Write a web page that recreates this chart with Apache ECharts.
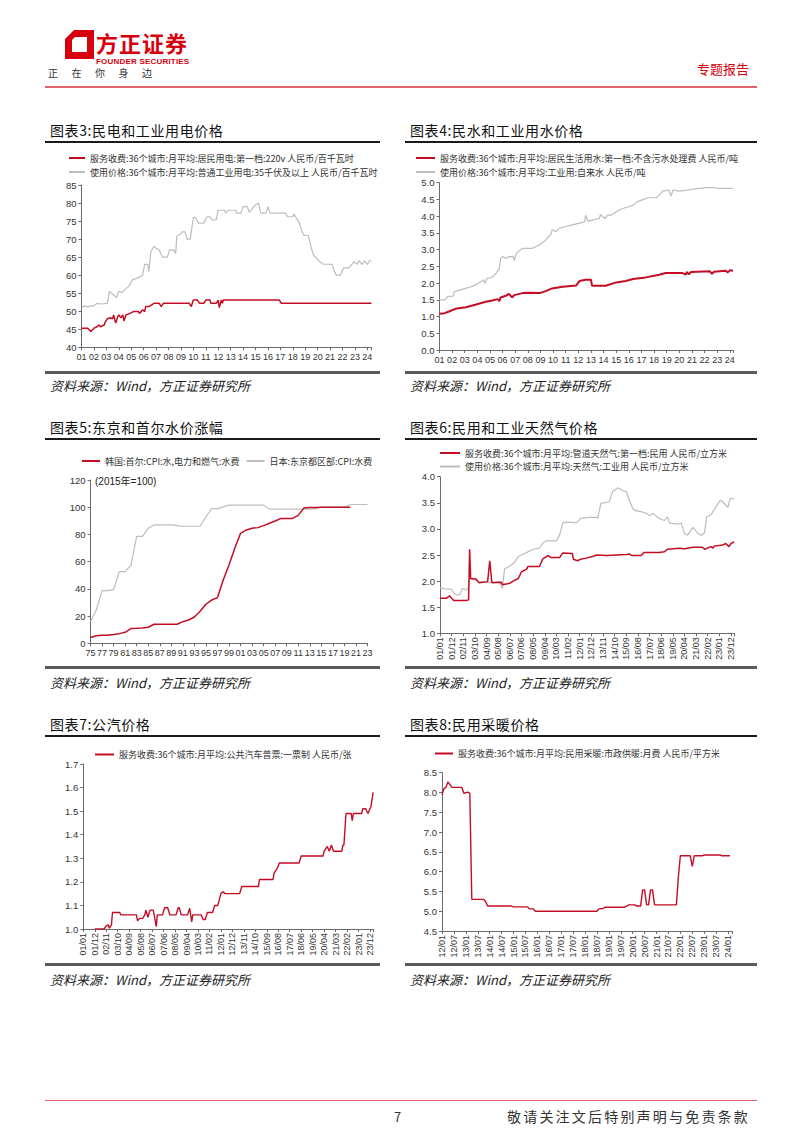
<!DOCTYPE html>
<html><head><meta charset="utf-8">
<script src="https://cdn.jsdelivr.net/npm/echarts@6/dist/echarts.min.js"></script>
<style>
html,body{margin:0;padding:0;background:#fff;}
#page{position:relative;width:802px;height:1133px;overflow:hidden;font-family:"Noto Sans CJK SC","Noto Sans",sans-serif;}
#chart{position:absolute;left:0;top:0;width:802px;height:1133px;z-index:1;}
.t{position:absolute;white-space:nowrap;line-height:1;z-index:2;}
.ln{position:absolute;z-index:2;}
.ttl{font-size:14px;color:#111;letter-spacing:0.6px;}
.src{font-size:13px;color:#222;font-style:italic;}
</style></head>
<body><div id="page">
<div id="chart"></div>
<svg class="ln" style="left:65px;top:30px" width="29" height="29" viewBox="0 0 29 29">
<path fill="#D7000F" fill-rule="evenodd" d="M9 0 H29 V29 H0 V9 Z M10 7 H22 V22 H7 V10 Z"/>
</svg>
<div class="t" style="left:96px;top:31px;font-size:22px;font-weight:bold;color:#D7000F;letter-spacing:1px">方正证券</div>
<div class="t" style="left:96px;top:58px;font-size:8px;font-weight:bold;color:#D7000F;font-family:'Liberation Sans',Arial,sans-serif;letter-spacing:0.2px">FOUNDER SECURITIES</div>
<div class="t" style="left:48px;top:68px;font-size:10px;color:#333;letter-spacing:13.5px">正在你身边</div>
<div class="t" style="left:697px;top:62px;font-size:13px;color:#D7000F">专题报告</div>
<div class="ln" style="left:45px;top:86px;width:712px;height:1.5px;background:#E3606C"></div>

<div class="t ttl" style="left:50px;top:123px">图表3:民电和工业用电价格</div>
<div class="ln" style="left:45px;top:141px;width:335px;height:2px;background:#1a1a1a"></div>
<div class="t ttl" style="left:410px;top:123px">图表4:民水和工业用水价格</div>
<div class="ln" style="left:405px;top:141px;width:352px;height:2px;background:#1a1a1a"></div>
<div class="ln" style="left:45px;top:371px;width:335px;height:3px;background:#5a5a5a"></div>
<div class="ln" style="left:405px;top:371px;width:352px;height:3px;background:#5a5a5a"></div>
<div class="t src" style="left:50px;top:379px">资料来源：Wind，方正证券研究所</div>
<div class="t src" style="left:410px;top:379px">资料来源：Wind，方正证券研究所</div>

<div class="t ttl" style="left:50px;top:420px">图表5:东京和首尔水价涨幅</div>
<div class="ln" style="left:45px;top:438px;width:335px;height:2px;background:#1a1a1a"></div>
<div class="t ttl" style="left:410px;top:420px">图表6:民用和工业天然气价格</div>
<div class="ln" style="left:405px;top:438px;width:352px;height:2px;background:#1a1a1a"></div>
<div class="t" style="left:95px;top:477px;font-size:10px;color:#222;font-family:'Liberation Sans','Noto Sans CJK SC',sans-serif">(2015年=100)</div>
<div class="ln" style="left:45px;top:666px;width:335px;height:3px;background:#5a5a5a"></div>
<div class="ln" style="left:405px;top:666px;width:352px;height:3px;background:#5a5a5a"></div>
<div class="t src" style="left:50px;top:676px">资料来源：Wind，方正证券研究所</div>
<div class="t src" style="left:410px;top:676px">资料来源：Wind，方正证券研究所</div>

<div class="t ttl" style="left:50px;top:717px">图表7:公汽价格</div>
<div class="ln" style="left:45px;top:735px;width:335px;height:2px;background:#1a1a1a"></div>
<div class="t ttl" style="left:410px;top:717px">图表8:民用采暖价格</div>
<div class="ln" style="left:405px;top:735px;width:352px;height:2px;background:#1a1a1a"></div>
<div class="ln" style="left:45px;top:963px;width:335px;height:3px;background:#5a5a5a"></div>
<div class="ln" style="left:405px;top:963px;width:352px;height:3px;background:#5a5a5a"></div>
<div class="t src" style="left:50px;top:973px">资料来源：Wind，方正证券研究所</div>
<div class="t src" style="left:410px;top:973px">资料来源：Wind，方正证券研究所</div>

<div class="ln" style="left:45px;top:1100px;width:712px;height:1px;background:#E3606C"></div>
<div class="t" style="left:394px;top:1110px;font-size:13px;color:#333">7</div>
<div class="t" style="left:507px;top:1109px;font-size:14px;color:#333;letter-spacing:2.2px">敬请关注文后特别声明与免责条款</div>
</div>
<script>
// ---------- data ----------
// Chart 3: electricity (RMB per 100 kWh), monthly, x = YYYY-MM
const elecResidential = [["2001-01",45.3],["2001-07",45.3],["2001-10",44.4],["2002-01",45.3],["2002-04",45.7],["2002-06",46.2],["2002-07",45.7],["2002-11",46.2],["2002-12",47.1],["2003-02",47.9],["2003-05",48.2],["2003-07",47.9],["2003-08",49],["2003-10",46.7],["2003-12",48.5],["2004-01",49],["2004-03",48.2],["2004-05",49],["2004-06",47.3],["2004-08",49],["2004-12",49.4],["2005-03",49.9],["2005-08",49.9],["2005-09",49.4],["2005-12",50.4],["2006-02",49.9],["2006-03",51.3],["2006-06",51.3],["2006-11",52.2],["2007-04",52.2],["2007-06",51.3],["2007-08",52.2],["2009-09",52.2],["2009-11",51.3],["2010-01",53.1],["2010-05",53.1],["2010-07",52.2],["2010-11",52.2],["2011-01",53.1],["2011-05",53.1],["2011-06",52.2],["2011-11",52.2],["2012-01",53.1],["2012-02",51],["2012-04",53.1],["2012-05",52.2],["2012-06",53.1],["2016-12",53.1],["2017-02",52.2],["2024-05",52.2]];
const elecIndustrial = [["2001-01",51],["2001-04",51.5],["2001-07",51.2],["2001-10",51.5],["2002-01",51.5],["2002-04",52.2],["2002-08",52],["2003-02",52.2],["2003-04",55.5],["2003-08",54.5],["2003-11",53.8],["2004-01",55.5],["2004-04",55.2],["2004-07",56],["2004-11",57],["2005-02",58.7],["2005-08",59.3],["2005-12",60],["2006-02",63],["2006-05",63],["2006-06",61],["2006-08",66.5],["2006-11",68],["2007-01",67.5],["2007-04",67],["2007-07",65],["2007-12",65],["2008-02",67],["2008-06",67],["2008-08",66],["2008-09",70.8],["2009-01",71.5],["2009-02",72],["2009-05",72],["2009-07",70],["2009-10",70],["2010-01",76],["2010-03",76],["2010-06",74.4],["2010-11",74.4],["2011-02",76.2],["2011-05",76.2],["2011-07",75.3],["2011-11",75.3],["2012-01",78],["2012-07",78],["2012-08",77.2],["2012-11",78],["2013-06",78],["2013-07",77.2],["2013-11",77.2],["2014-01",79],["2014-05",79],["2014-07",77.5],["2014-10",78.5],["2015-01",79.5],["2015-04",80],["2015-06",77.2],["2015-11",77.2],["2016-01",79],["2016-03",77.2],["2017-06",77.2],["2017-08",76.2],["2018-01",76.2],["2018-02",77],["2018-04",76],["2018-07",74.8],["2018-10",72],["2018-12",71],["2019-04",71],["2019-07",67.4],["2019-09",65.6],["2019-12",64.7],["2020-03",63.7],["2020-06",63.1],["2021-03",63],["2021-04",62],["2021-07",60],["2021-11",60],["2022-02",62],["2022-07",62],["2022-10",63],["2022-12",63.7],["2023-03",63],["2023-05",64],["2023-08",63],["2023-10",64],["2024-01",63],["2024-03",64],["2024-05",64]];

// Chart 4: water (RMB per ton)
const waterResidential = [["2001-01",1.08],["2001-06",1.1],["2001-10",1.15],["2002-04",1.23],["2003-02",1.28],["2003-11",1.35],["2004-09",1.44],["2005-03",1.48],["2005-08",1.52],["2005-10",1.46],["2005-11",1.57],["2006-04",1.62],["2006-07",1.68],["2006-10",1.57],["2006-12",1.64],["2007-08",1.7],["2008-02",1.71],["2008-12",1.7],["2009-06",1.76],["2009-12",1.84],["2010-10",1.89],["2011-11",1.93],["2012-02",2.06],["2012-08",2.1],["2013-01",2.1],["2013-02",1.92],["2014-03",1.92],["2015-01",2.02],["2015-10",2.06],["2016-05",2.12],["2017-05",2.17],["2018-06",2.25],["2018-12",2.3],["2020-04",2.3],["2020-07",2.25],["2020-08",2.33],["2020-10",2.26],["2020-12",2.33],["2022-06",2.35],["2022-08",2.28],["2022-10",2.34],["2023-09",2.37],["2023-11",2.32],["2024-01",2.38],["2024-04",2.37]];
const waterIndustrial = [["2001-01",1.5],["2001-06",1.5],["2001-09",1.6],["2002-02",1.61],["2002-03",1.74],["2002-08",1.79],["2003-02",1.84],["2003-07",1.89],["2003-11",1.94],["2004-04",2.04],["2004-07",2.09],["2004-08",1.99],["2004-10",2.14],["2005-02",2.16],["2005-06",2.26],["2005-10",2.44],["2005-11",2.74],["2006-01",2.79],["2006-04",2.74],["2006-07",2.79],["2006-11",2.8],["2006-12",2.67],["2007-02",2.89],["2007-08",3.04],["2008-05",3.04],["2008-12",3.14],["2009-06",3.29],["2009-11",3.46],["2009-12",3.59],["2010-04",3.54],["2010-07",3.64],["2011-01",3.69],["2011-07",3.74],["2012-02",3.79],["2012-07",3.83],["2012-08",4.03],["2012-10",3.85],["2013-02",3.88],["2013-09",3.93],["2013-10",4.05],["2014-02",3.93],["2014-05",4.03],["2014-08",4.03],["2015-01",4.13],["2015-07",4.23],["2016-01",4.28],["2016-05",4.33],["2016-09",4.43],["2017-01",4.48],["2017-07",4.55],["2018-03",4.55],["2018-06",4.63],["2018-09",4.75],["2019-03",4.78],["2019-05",4.6],["2019-07",4.78],["2020-01",4.75],["2020-08",4.78],["2021-02",4.81],["2022-02",4.85],["2022-09",4.85],["2023-03",4.83],["2024-04",4.83]];

// Chart 5: Tokyo / Seoul water CPI (2015=100), annual
const years5 = [1975,1976,1977,1978,1979,1980,1981,1982,1983,1984,1985,1986,1987,1988,1989,1990,1991,1992,1993,1994,1995,1996,1997,1998,1999,2000,2001,2002,2003,2004,2005,2006,2007,2008,2009,2010,2011,2012,2013,2014,2015,2016,2017,2018,2019,2020,2021,2022,2023];
const seoulWater = [4.2,5.6,5.9,5.9,6.4,7.1,8.1,10.8,11,11.3,11.8,14,14,14,14,14,15.9,17.1,19.3,23.5,28.7,31.8,33.6,46.5,57.6,69.8,80.8,83.3,84.5,85,86.5,88.2,89.9,91.8,91.8,91.8,94,99.5,99.8,99.8,100,100,100,100,100,100];
const tokyoWater = [16,24.5,38.7,38.7,39.5,52.7,52.7,57.3,78.5,78.5,84.5,87,87,87,87,86.5,86,86,86,86,93,99,99,100.2,101.5,101.5,101.5,101.5,101.5,101.5,101.5,98.6,98.6,98.6,98.6,98.6,98.6,98.6,98.6,99,100,100,100,100,100,102,102,102,102];

// Chart 6: natural gas (RMB per m3)
const gasResidential = [["2001-01",1.67],["2001-07",1.67],["2001-10",1.72],["2001-12",1.67],["2002-02",1.63],["2003-02",1.63],["2003-04",1.64],["2003-05",2.61],["2003-06",2.05],["2003-11",2.04],["2004-02",1.97],["2004-10",1.99],["2004-12",2.39],["2005-02",1.97],["2005-11",1.98],["2005-12",1.93],["2006-07",1.96],["2006-11",2.01],["2007-03",2.05],["2007-06",2.18],["2007-11",2.23],["2007-12",2.28],["2008-11",2.28],["2009-02",2.42],["2009-07",2.49],["2009-10",2.45],["2010-06",2.45],["2010-09",2.54],["2011-06",2.53],["2011-07",2.42],["2011-11",2.39],["2012-02",2.42],["2012-07",2.44],["2013-01",2.47],["2013-05",2.5],["2014-02",2.49],["2015-09",2.51],["2015-12",2.52],["2016-02",2.49],["2016-11",2.49],["2017-02",2.55],["2018-04",2.55],["2018-09",2.56],["2018-12",2.61],["2019-11",2.63],["2020-04",2.62],["2020-12",2.65],["2021-09",2.65],["2021-11",2.61],["2022-05",2.66],["2022-07",2.63],["2022-08",2.67],["2023-04",2.69],["2023-07",2.72],["2023-10",2.66],["2023-12",2.72],["2024-03",2.75]];
const gasIndustrial = [["2001-01",1.87],["2001-06",1.85],["2001-12",1.84],["2002-02",1.77],["2002-05",1.73],["2002-08",1.75],["2002-10",1.86],["2003-02",1.83],["2003-04",1.89],["2003-05",2.05],["2003-10",2.02],["2004-01",1.99],["2004-12",1.97],["2005-09",1.99],["2005-12",1.86],["2006-02",2.23],["2006-07",2.29],["2006-11",2.35],["2007-03",2.47],["2007-08",2.52],["2007-12",2.56],["2008-05",2.61],["2008-11",2.63],["2009-02",2.72],["2009-05",2.77],["2010-03",2.77],["2010-06",2.88],["2010-09",3.11],["2010-12",3.13],["2011-10",3.12],["2012-02",3.2],["2012-10",3.22],["2013-05",3.22],["2013-06",3.2],["2013-09",3.49],["2014-05",3.52],["2014-08",3.71],["2015-01",3.79],["2015-05",3.74],["2015-09",3.71],["2015-12",3.55],["2016-03",3.39],["2016-06",3.35],["2016-11",3.33],["2017-04",3.3],["2017-07",3.25],["2017-10",3.3],["2018-01",3.25],["2018-04",3.2],["2018-09",3.16],["2018-12",3.23],["2019-02",3.11],["2019-10",3.09],["2020-01",3.11],["2020-04",2.91],["2020-07",2.88],["2020-12",3.03],["2021-05",2.91],["2021-08",2.88],["2021-11",2.93],["2022-01",3.23],["2022-05",3.27],["2022-10",3.43],["2023-02",3.55],["2023-04",3.52],["2023-09",3.41],["2023-11",3.58],["2024-03",3.58]];

// Chart 7: bus fare (RMB per ticket)
const busFare = [["2001-12",1.0],["2002-09",1.0],["2002-11",1.013],["2003-01",1.017],["2003-02",1.003],["2003-04",1.017],["2003-05",1.07],["2003-12",1.07],["2004-01",1.06],["2005-04",1.06],["2005-05",1.035],["2005-07",1.045],["2005-10",1.045],["2005-12",1.06],["2006-01",1.08],["2006-03",1.05],["2006-05",1.08],["2006-08",1.08],["2006-09",1.06],["2006-11",1.01],["2006-12",1.06],["2007-05",1.06],["2007-07",1.09],["2007-10",1.09],["2007-12",1.06],["2008-06",1.06],["2008-08",1.09],["2008-09",1.09],["2008-11",1.06],["2009-05",1.06],["2009-07",1.088],["2009-09",1.03],["2009-10",1.06],["2010-06",1.06],["2010-08",1.04],["2010-10",1.04],["2010-12",1.07],["2011-05",1.07],["2011-07",1.1],["2011-10",1.1],["2012-01",1.15],["2012-03",1.158],["2012-05",1.15],["2013-07",1.15],["2013-09",1.18],["2015-01",1.18],["2015-02",1.21],["2016-03",1.21],["2016-04",1.236],["2016-07",1.257],["2016-09",1.28],["2018-04",1.28],["2018-06",1.31],["2020-03",1.31],["2020-04",1.33],["2020-07",1.35],["2020-09",1.33],["2020-11",1.356],["2021-01",1.33],["2021-09",1.33],["2021-10",1.356],["2021-11",1.356],["2022-01",1.49],["2022-06",1.49],["2022-07",1.46],["2022-08",1.49],["2023-04",1.49],["2023-05",1.51],["2023-08",1.51],["2023-10",1.49],["2023-12",1.51],["2024-01",1.52],["2024-03",1.58]];

// Chart 8: heating (RMB per m2 per month)
const heatingFee = [["2012-01",7.94],["2012-02",8.1],["2012-03",8.13],["2012-04",8.27],["2012-06",8.13],["2012-11",8.13],["2012-12",7.98],["2013-02",8.01],["2013-03",7.98],["2013-04",5.3],["2013-10",5.3],["2013-11",5.24],["2013-12",5.13],["2014-12",5.13],["2015-01",5.11],["2015-08",5.11],["2015-09",5.06],["2015-11",5.06],["2015-12",5.0],["2018-07",5.0],["2018-08",5.06],["2018-10",5.07],["2018-11",5.1],["2019-09",5.1],["2019-11",5.16],["2020-02",5.16],["2020-03",5.13],["2020-05",5.13],["2020-06",5.54],["2020-07",5.54],["2020-08",5.16],["2020-09",5.16],["2020-10",5.54],["2020-11",5.54],["2020-12",5.16],["2021-11",5.16],["2021-12",5.87],["2022-01",6.4],["2022-06",6.4],["2022-07",6.13],["2022-08",6.4],["2022-12",6.4],["2023-01",6.42],["2023-09",6.42],["2023-10",6.4],["2024-02",6.4]];

const names = {
  e1: "服务收费:36个城市:月平均:居民用电:第一档:220v 人民币/百千瓦时",
  e2: "使用价格:36个城市:月平均:普通工业用电:35千伏及以上 人民币/百千瓦时",
  w1: "服务收费:36个城市:月平均:居民生活用水:第一档:不含污水处理费 人民币/吨",
  w2: "使用价格:36个城市:月平均:工业用:自来水 人民币/吨",
  k1: "韩国:首尔:CPI:水,电力和燃气:水费",
  k2: "日本:东京都区部:CPI:水费",
  g1: "服务收费:36个城市:月平均:管道天然气:第一档:民用 人民币/立方米",
  g2: "使用价格:36个城市:月平均:天然气:工业用 人民币/立方米",
  b1: "服务收费:36个城市:月平均:公共汽车普票:一票制 人民币/张",
  h1: "服务收费:36个城市:月平均:民用采暖:市政供暖:月费 人民币/平方米"
};

// ---------- helpers ----------
const RED = '#C40D24', GRAY = '#BDBDBD', AXIS = '#6b6b6b', LBL = '#333';
const NUMF = '"Liberation Sans", Arial, sans-serif';
const CJKF = '"Noto Sans CJK SC", sans-serif';
function toM(s, base) { return (+s.slice(0, 4) - base) * 12 + (+s.slice(5, 7)) - 1; }
function pad2(n) { return String(n).padStart(2, '0'); }
function pts(arr, base) { return arr.map(d => [toM(d[0], base), d[1]]); }

const axLine = { show: true, onZero: false, lineStyle: { color: AXIS, width: 1 } };
const axTick = { show: true, length: 3, lineStyle: { color: AXIS, width: 1 } };
function xAx(gi, min, max, interval, fmt, rotate) {
  return { gridIndex: gi, type: 'value', min, max, interval,
    axisLine: axLine, axisTick: axTick, splitLine: { show: false },
    axisLabel: { formatter: fmt, fontSize: 9, color: LBL, fontFamily: NUMF, margin: rotate ? 4 : 5, rotate: rotate || 0,
      showMinLabel: true, showMaxLabel: true } };
}
function yAx(gi, min, max, interval, dec) {
  return { gridIndex: gi, type: 'value', min, max, interval,
    axisLine: axLine, axisTick: axTick, splitLine: { show: false },
    axisLabel: { formatter: v => v.toFixed(dec), fontSize: 9.5, color: LBL, fontFamily: NUMF, margin: 5 } };
}
const yearFmt = base => v => (v % 12 === 0 ? pad2((base + v / 12) % 100) : '');
const ymFmt = (base, step) => v => (v % step === 0 ? pad2((base + Math.floor(v / 12)) % 100) + '/' + pad2(v % 12 + 1) : '');
function line(name, xi, data, color, width) {
  return { name, type: 'line', xAxisIndex: xi, yAxisIndex: xi, data, symbol: 'none', showSymbol: false,
    lineStyle: { color, width }, itemStyle: { color }, animation: false, z: color === RED ? 3 : 2 };
}
function legend(dataNames, left, top, w, orient, gap) {
  return { data: dataNames, left, top, orient: orient || 'vertical', icon: 'rect', itemWidth: w, itemHeight: 2,
    itemGap: gap, selectedMode: false, padding: 0,
    textStyle: { fontSize: 9, lineHeight: 12, color: LBL, fontFamily: CJKF } };
}

const option = {
  animation: false,
  grid: [
    { left: 81.5, top: 185, width: 290, height: 162.3 },
    { left: 439.5, top: 182.7, width: 293.5, height: 167.3 },
    { left: 90.5, top: 480, width: 277, height: 163.3 },
    { left: 440, top: 476.7, width: 294.2, height: 156.6 },
    { left: 83.3, top: 764, width: 289.8, height: 165 },
    { left: 442, top: 772.7, width: 290, height: 158.3 }
  ],
  xAxis: [
    xAx(0, 0, 280, 12, yearFmt(2001)),
    xAx(1, 0, 279, 12, yearFmt(2001)),
    xAx(2, 1975, 2023, 2, v => pad2(v % 100)),
    xAx(3, 0, 278, 11, ymFmt(2001, 11), 90),
    xAx(4, 0, 278, 11, ymFmt(2001, 11), 90),
    xAx(5, 0, 146, 6, ymFmt(2012, 6), 90)
  ],
  yAxis: [
    yAx(0, 40, 85, 5, 0),
    yAx(1, 0, 5, 0.5, 1),
    yAx(2, 0, 120, 20, 0),
    yAx(3, 1, 4, 0.5, 1),
    yAx(4, 1, 1.7, 0.1, 1),
    yAx(5, 4.5, 8.5, 0.5, 1)
  ],
  legend: [
    legend([names.e1, names.e2], 69, 152, 16, 'vertical', 2),
    legend([names.w1, names.w2], 416, 152, 19, 'vertical', 2),
    legend([names.k1, names.k2], 82, 455, 18, 'horizontal', 7),
    legend([names.g1, names.g2], 440, 447, 20, 'vertical', 1.5),
    legend([names.b1], 95, 748.5, 19, 'vertical', 2),
    legend([names.h1], 435, 747.5, 18, 'vertical', 2)
  ],
  series: [
    line(names.e2, 0, pts(elecIndustrial, 2001), GRAY, 1.2),
    line(names.e1, 0, pts(elecResidential, 2001), RED, 1.5),
    line(names.w2, 1, pts(waterIndustrial, 2001), GRAY, 1.2),
    line(names.w1, 1, pts(waterResidential, 2001), RED, 2),
    line(names.k2, 2, years5.map((y, i) => [y, tokyoWater[i]]), GRAY, 1.2),
    line(names.k1, 2, seoulWater.map((v, i) => [years5[i], v]), RED, 1.5),
    line(names.g2, 3, pts(gasIndustrial, 2001), GRAY, 1.2),
    line(names.g1, 3, pts(gasResidential, 2001), RED, 1.5),
    line(names.b1, 4, pts(busFare, 2001), RED, 1.4),
    line(names.h1, 5, pts(heatingFee, 2012), RED, 1.4)
  ]
};
const chart = echarts.init(document.getElementById('chart'), null, { renderer: 'svg' });
chart.setOption(option);
</script>
</body></html>
